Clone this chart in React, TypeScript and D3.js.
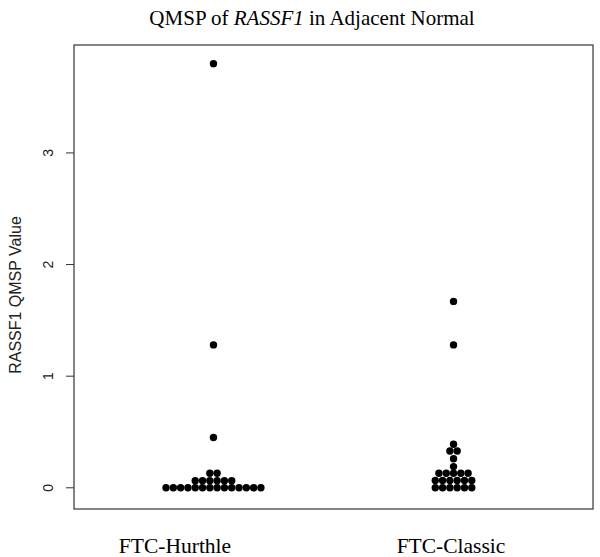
import React from "react";
import * as d3 from "d3";

const groups = ["FTC-Hurthle", "FTC-Classic"];
const hurthleValues = [
  0, 0, 0, 0, 0, 0, 0, 0, 0, 0, 0, 0, 0, 0,
  0.063, 0.063, 0.063, 0.063, 0.063, 0.063,
  0.13, 0.13,
  0.45, 1.28, 3.8,
];
const classicValues = [
  0, 0, 0, 0, 0, 0,
  0.065, 0.065, 0.065, 0.065, 0.065, 0.065,
  0.13, 0.13, 0.13, 0.13, 0.13,
  0.19, 0.26, 0.33, 0.33, 0.39,
  1.28, 1.67,
];
const yTicks = [0, 1, 2, 3];
const title = "QMSP of ";
const titleItalic = "RASSF1";
const titleRest = " in Adjacent Normal";
const yLabel = "RASSF1 QMSP Value";

const W = 600;
const H = 557;
const left = 74, right = 593, top = 45, bottom = 509;
const spacing = 7.3;
const r = 3.7;

function layout(values: number[]) {
  const byVal = d3.group(values, (v) => v);
  const pts: { v: number; off: number }[] = [];
  for (const [v, arr] of byVal) {
    const n = arr.length;
    arr.forEach((_, i) => pts.push({ v, off: (i - (n - 1) / 2) * spacing }));
  }
  return pts;
}

export default function App() {
  const x = d3.scalePoint<string>().domain(groups).range([left, right]).padding(0.581);
  const y = d3.scaleLinear().domain([-0.19, 3.967]).range([bottom, top]);
  const data = [hurthleValues, classicValues];
  const serif = "'Liberation Serif', 'Times New Roman', serif";
  const sans = "'Liberation Sans', Arial, sans-serif";
  const labelX = [175, 451];
  return (
    <svg width={W} height={H} style={{ display: "block", position: "absolute", left: 0, top: 0 }}>
      <rect x={0} y={0} width={W} height={H} fill="#fff" />
      <text x={312} y={25} textAnchor="middle" fontFamily={serif} fontSize={21} fill="#000">
        {title}
        <tspan fontStyle="italic">{titleItalic}</tspan>
        {titleRest}
      </text>
      <rect x={left} y={top} width={right - left} height={bottom - top} fill="none" stroke="#333" strokeWidth={1.2} />
      {yTicks.map((t) => (
        <g key={t}>
          <line x1={left - 8} x2={left} y1={y(t)} y2={y(t)} stroke="#333" strokeWidth={1} />
          <text
            transform={`translate(${48},${y(t)}) rotate(-90)`}
            textAnchor="middle"
            dy="0.35em"
            fontFamily={sans}
            fontSize={14}
            fill="#222"
          >
            {t}
          </text>
        </g>
      ))}
      <text
        transform={`translate(${15},${295}) rotate(-90)`}
        textAnchor="middle"
        dy="0.35em"
        fontFamily={sans}
        fontSize={16}
        fill="#222"
      >
        {yLabel}
      </text>
      {data.map((vals, gi) =>
        layout(vals).map((p, i) => (
          <circle key={`${gi}-${i}`} cx={(x(groups[gi]) as number) + p.off} cy={y(p.v)} r={r} fill="#000" />
        ))
      )}
      {groups.map((g, gi) => (
        <text key={g} x={labelX[gi]} y={553} textAnchor="middle" fontFamily={serif} fontSize={21.5} fill="#000">
          {g}
        </text>
      ))}
    </svg>
  );
}
